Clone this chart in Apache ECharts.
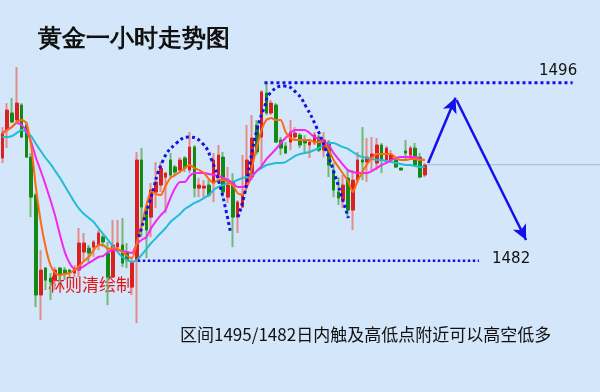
<!DOCTYPE html>
<html><head><meta charset="utf-8">
<script src="https://cdn.jsdelivr.net/npm/echarts@6/dist/echarts.min.js"></script>
<style>html,body{margin:0;padding:0;background:#d3e6fa}#c{width:600px;height:392px}</style>
</head><body><div id="c"></div>
<script>
// ---- candle data (1-hour gold) ----
const openP=[1490.08,1492.28,1493.62,1493.07,1494.25,1492.67,1490.15,1487.16,1479.30,1481.42,
1480.63,1480.47,1481.42,1481.26,1481.26,1481.03,1481.26,1482.68,1482.99,1483.07,
1483.23,1483.86,1482.60,1480.71,1483.07,1483.23,1482.60,1479.92,1482.05,1489.92,
1486.22,1485.43,1487.40,1487.95,1488.57,1489.92,1489.37,1489.13,1490.08,1489.13,
1490.94,1487.71,1487.71,1487.95,1488.11,1488.74,1490.15,1487.00,1488.19,1485.43,
1486.22,1487.95,1488.58,1492.67,1491.73,1495.19,1493.62,1494.25,1491.49,1491.02,
1491.33,1491.73,1491.88,1491.49,1491.10,1491.26,1491.73,1490.70,1491.33,1489.13,
1487.40,1486.77,1488.50,1485.98,1488.34,1489.92,1489.76,1490.15,1489.68,1491.10,
1489.92,1489.92,1489.92,1489.29,1490.63,1490.31,1490.86,1490.15,1488.74];
const closeP=[1492.04,1493.85,1492.91,1494.40,1491.73,1490.15,1487.00,1479.30,1481.26,1480.47,
1480.32,1481.26,1480.87,1481.03,1481.03,1481.42,1483.39,1483.39,1482.60,1483.47,
1484.18,1483.47,1480.71,1483.23,1483.39,1481.81,1482.05,1481.89,1489.92,1486.22,
1484.41,1487.56,1488.19,1489.29,1488.89,1488.74,1488.97,1489.92,1489.29,1490.94,
1487.71,1487.95,1487.87,1487.16,1489.92,1490.31,1487.40,1487.95,1485.43,1486.61,
1487.16,1489.92,1491.65,1490.55,1495.27,1493.62,1494.40,1491.33,1490.86,1490.47,
1492.12,1492.04,1491.10,1491.26,1491.33,1491.88,1490.70,1491.49,1489.52,1487.56,
1486.93,1487.95,1485.98,1488.34,1489.92,1489.76,1490.15,1490.39,1491.10,1489.92,
1490.86,1490.31,1489.37,1489.13,1490.47,1490.86,1489.52,1488.58,1489.52];
const lowP=[1489.68,1490.86,1492.83,1492.91,1491.65,1490.08,1485.43,1478.35,1477.33,1479.69,
1478.90,1479.69,1480.24,1480.47,1480.71,1480.71,1480.71,1482.05,1481.81,1482.29,
1482.83,1483.07,1478.50,1480.63,1483.07,1481.50,1481.42,1479.30,1477.09,1483.86,
1482.21,1483.86,1486.14,1487.40,1485.75,1488.58,1488.74,1488.97,1488.97,1488.89,
1487.00,1487.00,1487.00,1487.00,1486.61,1488.11,1487.00,1486.53,1483.07,1484.18,
1486.14,1487.79,1488.34,1490.31,1489.52,1493.46,1493.46,1491.26,1490.31,1490.39,
1490.70,1491.49,1490.86,1490.55,1490.08,1491.10,1490.55,1490.15,1488.58,1487.00,
1486.38,1486.14,1485.35,1484.41,1488.11,1488.34,1488.19,1489.13,1489.13,1488.89,
1489.76,1489.76,1489.29,1489.13,1489.92,1489.92,1489.37,1488.50,1488.58];
const highP=[1492.51,1494.40,1494.80,1497.24,1494.40,1492.91,1490.47,1487.32,1482.83,1481.50,
1481.03,1481.50,1481.50,1481.50,1481.34,1481.65,1484.57,1484.18,1483.23,1483.62,
1484.41,1484.02,1483.47,1485.20,1485.20,1485.35,1483.39,1482.29,1490.55,1490.86,
1486.38,1488.11,1489.76,1489.76,1488.97,1490.47,1489.53,1490.15,1490.23,1492.12,
1491.10,1488.50,1488.34,1488.34,1490.47,1491.10,1490.55,1489.37,1488.89,1486.77,
1490.31,1492.67,1493.46,1493.07,1495.43,1496.05,1494.64,1494.40,1491.73,1491.33,
1493.07,1492.51,1492.04,1491.88,1491.49,1492.12,1491.88,1492.12,1491.49,1489.68,
1488.58,1488.74,1489.13,1489.13,1490.55,1492.51,1491.65,1491.73,1491.65,1491.26,
1491.02,1490.70,1490.08,1489.29,1491.49,1491.02,1491.26,1490.47,1489.68];
// ---- moving averages ----
const maShort=[1491.97,1492.28,1492.52,1492.91,1493.07,1492.83,1491.02,1487.72,1485.04,1483.08,
1481.66,1481.03,1480.87,1480.95,1481.03,1481.27,1481.58,1481.97,1482.29,1482.84,
1483.23,1483.23,1482.92,1483.00,1482.92,1482.68,1482.37,1482.21,1483.39,1484.81,
1486.38,1487.48,1487.25,1487.17,1487.88,1488.51,1488.74,1488.98,1489.29,1489.53,
1489.29,1489.13,1488.90,1488.43,1488.11,1488.35,1488.35,1488.19,1487.95,1487.32,
1487.17,1487.88,1489.37,1490.94,1492.28,1493.07,1493.22,1493.07,1493.07,1492.12,
1491.65,1491.49,1491.49,1491.49,1491.49,1491.34,1491.34,1491.26,1490.71,1489.92,
1489.37,1488.82,1488.27,1487.40,1488.27,1488.98,1489.61,1490.08,1490.39,1490.39,
1490.39,1490.39,1490.08,1489.92,1489.92,1490.00,1490.00,1489.92,1489.92];
const maMid=[1492.05,1492.28,1492.52,1492.83,1492.67,1492.20,1491.34,1490.08,1489.06,1487.95,
1486.77,1485.52,1484.02,1482.68,1481.82,1481.35,1481.35,1481.58,1481.82,1482.05,
1482.29,1482.37,1482.68,1482.84,1482.84,1482.76,1482.68,1482.60,1483.31,1483.63,
1483.86,1484.57,1485.12,1485.59,1485.99,1486.93,1487.72,1488.19,1488.19,1488.66,
1488.90,1488.90,1488.90,1488.82,1488.74,1488.66,1488.51,1488.35,1488.11,1487.80,
1487.80,1487.95,1488.58,1489.06,1489.45,1490.00,1490.39,1490.79,1491.26,1491.65,
1492.05,1492.28,1492.28,1492.28,1492.05,1491.73,1491.57,1491.34,1491.10,1490.47,
1490.00,1489.53,1489.13,1488.98,1488.90,1488.90,1488.90,1489.06,1489.29,1489.53,
1489.69,1489.92,1490.08,1490.16,1490.16,1490.16,1490.16,1490.00,1489.92];
const maLong=[1491.73,1491.73,1491.81,1492.05,1492.28,1492.12,1491.81,1491.18,1490.63,1490.08,
1489.61,1489.06,1488.51,1487.88,1487.25,1486.62,1486.07,1485.67,1485.36,1485.04,
1484.57,1484.10,1483.63,1483.15,1482.68,1482.29,1482.05,1481.90,1482.05,1482.45,
1482.92,1483.39,1483.78,1484.18,1484.57,1485.04,1485.36,1485.67,1486.07,1486.30,
1486.54,1486.70,1486.93,1487.17,1487.56,1487.80,1487.95,1488.11,1488.19,1488.35,
1488.51,1488.58,1488.74,1489.06,1489.29,1489.53,1489.61,1489.69,1489.69,1489.76,
1490.00,1490.24,1490.39,1490.47,1490.55,1490.71,1490.87,1491.18,1491.26,1491.26,
1491.10,1490.94,1490.79,1490.55,1490.31,1490.16,1490.08,1490.00,1489.92,1489.92,
1489.84,1489.76,1489.69,1489.61,1489.53,1489.53,1489.45,1489.37,1489.37];
// ---- annotation values (bar index, price) ----
const resistance=1496, support=1482, lastPrice=1489.55;
const resSpan=[54.6,118.8], supSpan=[28.2,99.3], lastSpan=[88.3,124.5];
const arch1=[[28.4,1483.86],[30.8,1486.77],[33.5,1489.92],[36.3,1491.26],[38.9,1491.73],[41.6,1491.26],[43.6,1489.92],[45.4,1487.80],[46.7,1485.75],[47.5,1484.26]];
const arch2=[[49.1,1485.44],[50.5,1487.32],[51.7,1489.92],[53.2,1492.52],[54.6,1494.09],[55.8,1495.19],[58.7,1495.74],[61.3,1495.19],[63.3,1494.09],[65.4,1492.52],[67.4,1490.71],[69.4,1488.58],[71.1,1486.54],[72.1,1485.36]];
const arrowUp=[[88.7,1489.69],[94.4,1494.82]];
const arrowDown=[[94.6,1494.64],[109.1,1483.63]];
const slotCount=125;
const categories=Array.from({length:slotCount},(_,i)=>'H'+(i+1));
const titleText='黄金一小时走势图';
const authorText='林则清绘制';
const noteText='区间1495/1482日内触及高低点附近可以高空低多';

const wickData=openP.map((o,i)=>[o,closeP[i],lowP[i],highP[i]]);
const bodyData=openP.map((o,i)=>[o,closeP[i],Math.min(o,closeP[i]),Math.max(o,closeP[i])]);

const chart=echarts.init(document.getElementById('c'),null,{renderer:'canvas'});
const blue='#1212e8';
chart.setOption({
  animation:false,
  backgroundColor:'#d3e6fa',
  grid:{left:-4.06,width:615,top:0,height:392,containLabel:false},
  xAxis:[
    {type:'category',data:categories,boundaryGap:true,show:false},
    {type:'value',min:-0.5,max:slotCount-0.5,show:false}
  ],
  yAxis:{type:'value',min:1471.67,max:1502.51,show:false,scale:true},
  series:[
    {type:'line',xAxisIndex:1,data:[[lastSpan[0],lastPrice],[lastSpan[1],lastPrice]],symbol:'none',lineStyle:{color:'#a3bcd9',width:1},silent:true,z:1},
    {type:'candlestick',name:'wick',data:wickData,barWidth:1,silent:true,z:2,
      itemStyle:{color:'#e48b8b',color0:'#74b874',borderColor:'#e48b8b',borderColor0:'#74b874',borderColorDoji:'#74b874',borderWidth:2}},
    {type:'candlestick',name:'body',data:bodyData,barWidth:3,silent:true,z:3,
      itemStyle:{color:'#dc2020',color0:'#148a14',borderColor:'#dc2020',borderColor0:'#148a14',borderColorDoji:'#148a14',borderWidth:1}},
    {type:'line',data:maLong,symbol:'none',smooth:0.2,lineStyle:{color:'#22bcd6',width:2},z:4,silent:true},
    {type:'line',data:maMid,symbol:'none',smooth:0.2,lineStyle:{color:'#f526f0',width:2},z:5,silent:true},
    {type:'line',data:maShort,symbol:'none',smooth:0.2,lineStyle:{color:'#ff6a10',width:2},z:6,silent:true},
    {type:'line',xAxisIndex:1,data:[[resSpan[0],resistance],[resSpan[1],resistance]],symbol:'none',lineStyle:{color:blue,width:3,type:[3,3]},z:7,silent:true},
    {type:'line',xAxisIndex:1,data:[[supSpan[0],support],[supSpan[1],support]],symbol:'none',lineStyle:{color:blue,width:2.5,type:[2.5,2.5]},z:7,silent:true},
    {type:'line',xAxisIndex:1,data:arch1,symbol:'none',smooth:0.5,lineStyle:{color:blue,width:3,type:[3,3]},z:8,silent:true},
    {type:'line',xAxisIndex:1,data:arch2,symbol:'none',smooth:0.5,lineStyle:{color:blue,width:3,type:[3,3]},z:8,silent:true},
    {type:'line',xAxisIndex:1,data:[],symbol:'none',z:9,silent:true,
      markLine:{silent:true,symbol:['none','arrow'],symbolSize:[11,15],label:{show:false},
        lineStyle:{color:blue,width:2.5,type:'solid'},
        data:[[{coord:arrowUp[0]},{coord:arrowUp[1]}],[{coord:arrowDown[0]},{coord:arrowDown[1]}]]}}
  ],
  graphic:[
    {type:'text',left:38,top:27,style:{text:titleText,fontSize:24,fontWeight:'bold',fill:'#111',font:'bold 24px "Noto Sans CJK SC"'}},
    {type:'text',left:539,top:64,style:{text:String(resistance),fill:'#111',font:'15px "DejaVu Sans"'}},
    {type:'text',left:492,top:252,style:{text:String(support),fill:'#111',font:'15px "DejaVu Sans"'}},
    {type:'text',left:48,top:276,style:{text:authorText,fill:'#e81414',font:'17px "Noto Sans CJK SC"'}},
    {type:'text',left:180,top:326,style:{text:noteText,fill:'#111',font:'17px "Noto Sans CJK SC"'}}
  ]
});
</script></body></html>
